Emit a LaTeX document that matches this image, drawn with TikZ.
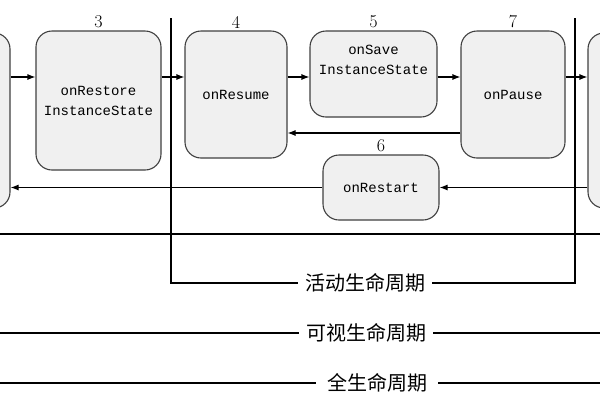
\documentclass[tikz,border=0pt]{standalone}
\usepackage{fontspec}
\setmonofont{Liberation Mono}
\newfontfamily\cjk{Noto Sans CJK SC}
\usetikzlibrary{arrows.meta,positioning}

\begin{document}
\begin{tikzpicture}[
			x=1pt,y=-1pt,
			>={Latex[length=8pt,width=6pt]},
			state/.style={
				draw=black!75,
				line width=1.1pt,
				fill=black!6,
				rounded corners=16pt,
				align=center,
				inner sep=0pt,
				font=\ttfamily\fontsize{14}{20}\selectfont,
			},
			num/.style={
				font=\fontsize{18}{18}\selectfont,
				inner sep=1pt,
				label distance=1pt,
			},
			cycle/.style={
				font=\cjk\fontsize{20}{20}\selectfont,
				inner xsep=7pt,
			},
			arr/.style={->,line width=1.1pt},
			bar/.style={line width=1.1pt},
		]
		\clip (0,0) rectangle (600,400);

		\node[state,minimum width=105pt,minimum height=175pt] (start) at (-42.5,120.5) {};
		\node[state,minimum width=125pt,minimum height=139pt,label={[num]above:3}] (restore) at (98.5,100.5) {onRestore\\InstanceState};
		\node[state,minimum width=102pt,minimum height=127pt,label={[num]above:4}] (resume) at (236,94.5) {onResume};
		\node[state,minimum width=127pt,minimum height=86pt,label={[num]above:5}] (save) at (373.5,74) {onSave\\InstanceState\\[8pt]\mbox{}};
		\node[state,minimum width=116pt,minimum height=65pt,label={[num]above:6}] (restart) at (381,187.5) {onRestart};
		\node[state,minimum width=104pt,minimum height=127pt,label={[num]above:7}] (pause) at (513,94.5) {onPause};
		\node[state,minimum width=105pt,minimum height=175pt] (stop) at (640.5,120.5) {};

		\coordinate (row) at (0,77);
		\coordinate (back) at (0,133);

		\draw[arr] (start.east |- row) -- (restore.west |- row);
		\draw[arr] (restore.east |- row) -- (resume.west |- row);
		\draw[arr] (resume.east |- row) -- (save.west |- row);
		\draw[arr] (save.east |- row) -- (pause.west |- row);
		\draw[arr] (pause.east |- row) -- (stop.west |- row);

		\draw[arr] (pause.west |- back) -- (resume.east |- back);
		\draw[arr] (stop.west |- restart) -- (restart.east);
		\draw[arr] (restart.west) -- (start.east |- restart);

		% lifetimes
		\coordinate (actL) at (171,18);
		\coordinate (actR) at (575,18);
		\node[cycle] (active) at (365,283) {活动生命周期};
		\draw[bar] (actL) |- (active.west);
		\draw[bar] (actR) |- (active.east);

		\coordinate (topL) at (0,234);
		\coordinate (topR) at (600,234);
		\draw[bar] (topL) -- (topR);

		\coordinate (visL) at (0,333);
		\coordinate (visR) at (600,333);
		\node[cycle] (visible) at (366,333) {可视生命周期};
		\draw[bar] (visL) -- (visible) -- (visR);

		\coordinate (fullL) at (0,383);
		\coordinate (fullR) at (600,383);
		\node[cycle,inner xsep=11pt] (full) at (377,383) {全生命周期};
		\draw[bar] (fullL) -- (full) -- (fullR);

	\end{tikzpicture}
\end{document}
